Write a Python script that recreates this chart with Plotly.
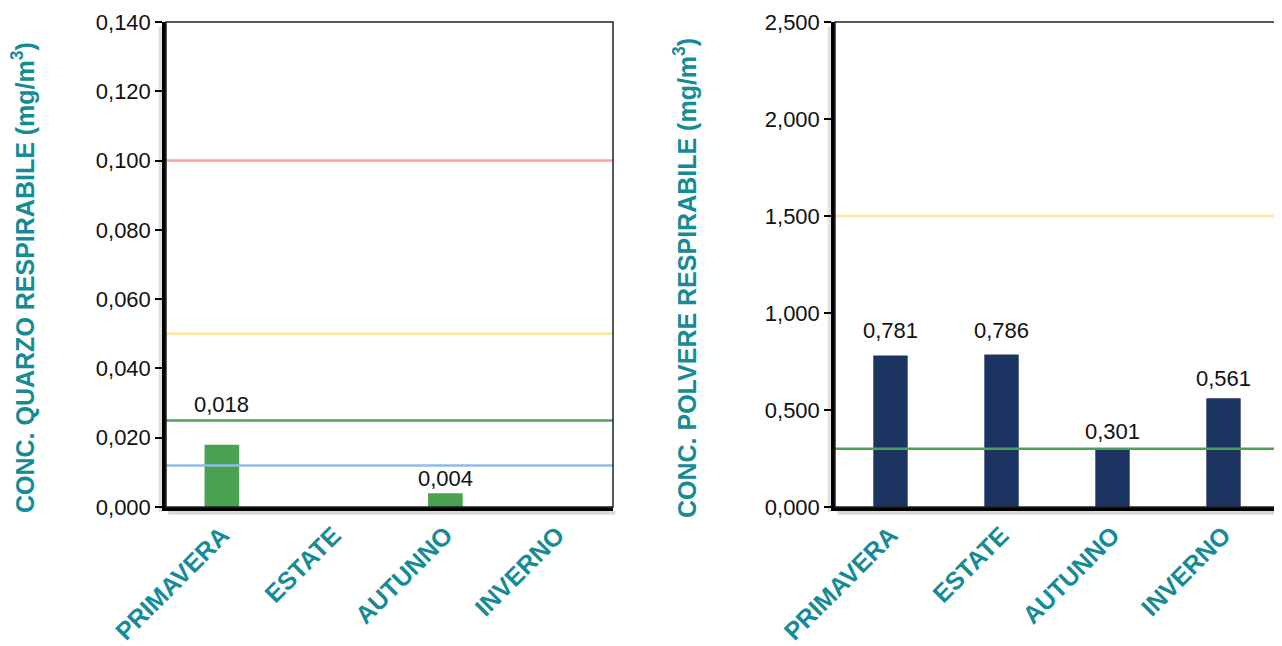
import plotly.graph_objects as go

categories = ["PRIMAVERA", "ESTATE", "AUTUNNO", "INVERNO"]
quarzo = [0.018, None, 0.004, None]
polvere = [0.781, 0.786, 0.301, 0.561]
quarzo_limits = [0.100, 0.050, 0.025, 0.012]
quarzo_limit_colors = ["#f7a59c", "#fbe89a", "#4ea257", "#8dbbea"]
polvere_limits = [1.500, 0.300]
polvere_limit_colors = ["#fbe89a", "#4ea257"]
quarzo_ticks = [0, 0.02, 0.04, 0.06, 0.08, 0.10, 0.12, 0.14]
polvere_ticks = [0, 0.5, 1.0, 1.5, 2.0, 2.5]

# label placement (style): pixel lift of each value label above its bar
quarzo_label_lift = [26, 0, 0, 0]
polvere_label_lift = [10, 10, 3, 5]

TEAL = "#148b96"
OFF = 8  # default page body margin
W, H = 1282 - OFF, 646 - OFF
FONT = "Liberation Sans, Arial, sans-serif"

def px(x):
    return (x - OFF) / W

TOP, BOT = 22 - OFF, 507 - OFF
PH = BOT - TOP

def py(y):
    return 1 - (y - OFF - TOP) / PH

fig = go.Figure()

fig.add_trace(go.Bar(
    x=categories, y=quarzo, xaxis="x", yaxis="y",
    marker=dict(color="#4aa152", line=dict(width=0)), width=0.31,
))
fig.add_trace(go.Bar(
    x=categories, y=polvere, xaxis="x2", yaxis="y2",
    marker=dict(color="#1c3461", line=dict(width=0)), width=0.31,
))

annotations = []
for cat, v, lift in zip(categories, quarzo, quarzo_label_lift):
    if v is None:
        continue
    annotations.append(dict(x=cat, y=v, xref="x", yref="y", text=f"{v:.3f}".replace(".", ","),
                            showarrow=False, yanchor="bottom", yshift=lift,
                            font=dict(size=22, color="#111111", family=FONT)))
for cat, v, lift in zip(categories, polvere, polvere_label_lift):
    annotations.append(dict(x=cat, y=v, xref="x2", yref="y2", text=f"{v:.3f}".replace(".", ","),
                            showarrow=False, yanchor="bottom", yshift=lift,
                            font=dict(size=22, color="#111111", family=FONT)))

shapes = []
for v, c in zip(quarzo_limits, quarzo_limit_colors):
    shapes.append(dict(type="line", xref="x domain", yref="y", x0=0, x1=1, y0=v, y1=v,
                       line=dict(color=c, width=2.5), layer="above"))
for v, c in zip(polvere_limits, polvere_limit_colors):
    shapes.append(dict(type="line", xref="x2 domain", yref="y2", x0=0, x1=1, y0=v, y1=v,
                       line=dict(color=c, width=2.5), layer="above"))
# frames (thin top/right borders) and soft shadow
for xr, yr in (("x domain", "y domain"), ("x2 domain", "y2 domain")):
    shapes.append(dict(type="rect", xref=xr, yref=yr, x0=0, x1=1, y0=0, y1=1,
                       line=dict(color="#222222", width=1.5), layer="above"))
    shapes.append(dict(type="line", xref=xr, yref=yr, x0=0.005, x1=1.005, y0=-0.012, y1=-0.012,
                       line=dict(color="rgba(0,0,0,0.15)", width=4), layer="below"))
    shapes.append(dict(type="line", xref=xr, yref=yr, x0=-0.012, x1=-0.012, y0=-0.01, y1=0.99,
                       line=dict(color="rgba(0,0,0,0.12)", width=4), layer="below"))

def yaxis_common(rng, ticks):
    return dict(range=rng, tickvals=ticks, tickformat=".3f", showgrid=False, zeroline=False,
                showline=True, linecolor="#000000", linewidth=3.5, automargin=False,
                ticks="outside", ticklen=7, tickwidth=2, tickcolor="#000000",
                tickfont=dict(size=22, color="#111111", family=FONT), fixedrange=True)

def xaxis_common(domain, anchor):
    return dict(domain=domain, anchor=anchor, showgrid=False, zeroline=False, automargin=False,
                showline=True, linecolor="#000000", linewidth=3.5, ticks="",
                tickangle=-45, tickfont=dict(size=25, color=TEAL, family=FONT, weight="bold"),
                fixedrange=True)

annotations += [
    dict(text="CONC. QUARZO RESPIRABILE (mg/m<sup>3</sup>)", xref="paper", yref="paper",
         x=px(23), y=py(278), xanchor="center", yanchor="middle",
         textangle=-90, showarrow=False,
         font=dict(size=25, color=TEAL, family=FONT, weight="bold")),
    dict(text="CONC. POLVERE RESPIRABILE (mg/m<sup>3</sup>)", xref="paper", yref="paper",
         x=px(685), y=py(278), xanchor="center", yanchor="middle",
         textangle=-90, showarrow=False,
         font=dict(size=25, color=TEAL, family=FONT, weight="bold")),
]

fig.update_layout(
    width=W, height=H,
    margin=dict(l=0, r=0, t=TOP, b=H - BOT),
    paper_bgcolor="white", plot_bgcolor="white",
    separators=",.",
    showlegend=False,
    xaxis=xaxis_common([px(166), px(613)], "y"),
    yaxis=dict(anchor="x", **yaxis_common([0, 0.14], quarzo_ticks)),
    xaxis2=xaxis_common([px(835), px(1279)], "y2"),
    yaxis2=dict(anchor="x2", **yaxis_common([0, 2.5], polvere_ticks)),
    shapes=shapes,
    annotations=annotations,
)

fig.write_html("out.html")
